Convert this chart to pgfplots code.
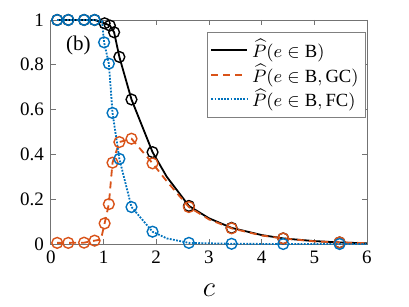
\documentclass[border=0pt]{standalone}
\usepackage{fontspec}
\setmainfont{Liberation Serif}
\usepackage{pgfplots}
\pgfplotsset{compat=1.18}
\definecolor{mblue}{rgb}{0,0.447,0.741}
\definecolor{mred}{rgb}{0.850,0.325,0.098}
\begin{document}
\begin{tikzpicture}
\begin{axis}[
  scale only axis, width=158pt, height=112pt,
  xmin=0, xmax=6, ymin=0, ymax=1,
  xtick={0,1,2,3,4,5,6}, ytick={0,0.2,0.4,0.6,0.8,1},
  yticklabels={0,0.2,0.4,0.6,0.8,1},
  tick align=inside, tick pos=both,
  major tick length=2.5pt,
  axis line style={color=black!55, line width=0.4pt},
  every tick/.style={color=black!55, line width=0.4pt},
  tick label style={font=\fontsize{9.5}{11}\selectfont},
  /pgf/number format/assume math mode=true,
  xlabel={$c$}, xlabel style={font=\fontsize{15}{16}\selectfont, yshift=-3pt},
  clip=false,
  legend style={at={(1,1)}, anchor=north east, xshift=-0.5pt, yshift=-6pt,
     draw=black!50, line width=0.4pt, font=\fontsize{9.3}{10.5}\selectfont,
     row sep=-2.2pt, inner sep=1.5pt, cells={anchor=west}},
  legend image code/.code={\draw[#1] (0cm,0cm) -- (0.63cm,0cm);},
]
% lines
\addplot[black, line width=0.9pt] coordinates {
 (0.12,1) (0.33,1) (0.63,1) (0.83,1) (1.02,0.985) (1.12,0.975) (1.2,0.945)
 (1.3,0.835) (1.53,0.645) (1.93,0.41) (2.2,0.3) (2.62,0.17) (3.0,0.115)
 (3.43,0.072) (4.0,0.04) (4.41,0.025) (5.0,0.013) (5.48,0.007) (6.0,0.003)};
\addlegendentry{$\widehat{P}(e\in\mathrm{B})$}
\addplot[mred, line width=0.9pt, dash pattern=on 3.5pt off 2.5pt] coordinates {
 (0.12,0.005) (0.33,0.005) (0.63,0.006) (0.83,0.015) (0.95,0.02) (1.02,0.092)
 (1.1,0.178) (1.17,0.363) (1.3,0.455) (1.53,0.47) (1.93,0.36) (2.2,0.28)
 (2.62,0.165) (3.0,0.11) (3.43,0.07) (4.0,0.038) (4.41,0.025) (5.0,0.012)
 (5.48,0.007) (6.0,0.004)};
\addlegendentry{$\widehat{P}(e\in\mathrm{B},\mathrm{GC})$}
\addplot[mblue, line width=0.9pt, dash pattern=on 0.9pt off 0.7pt] coordinates {
 (0.12,1) (0.33,1) (0.63,1) (0.83,1) (0.97,0.995) (1.01,0.9) (1.1,0.805)
 (1.17,0.585) (1.3,0.38) (1.53,0.165) (1.93,0.055) (2.2,0.025) (2.62,0.005)
 (3.43,0.001) (4.41,0) (5.48,0) (6.0,0)};
\addlegendentry{$\widehat{P}(e\in\mathrm{B},\mathrm{FC})$}
% markers
\addplot[forget plot, only marks, mark=o, mark size=2.7pt, black, line width=0.7pt] coordinates {
 (0.12,1) (0.33,1) (0.63,1) (0.83,1) (1.02,0.985) (1.12,0.975) (1.2,0.945)
 (1.3,0.835) (1.53,0.645) (1.93,0.41) (2.62,0.17) (3.43,0.072) (4.41,0.025) (5.48,0.007)};
\addplot[forget plot, only marks, mark=o, mark size=2.7pt, mred, line width=0.7pt] coordinates {
 (0.12,0.005) (0.33,0.005) (0.63,0.006) (0.83,0.015) (1.02,0.092) (1.1,0.178)
 (1.17,0.363) (1.3,0.455) (1.53,0.47) (1.93,0.36) (2.62,0.165) (3.43,0.07)
 (4.41,0.025) (5.48,0.007)};
\addplot[forget plot, only marks, mark=o, mark size=2.7pt, mblue, line width=0.7pt] coordinates {
 (0.12,1) (0.33,1) (0.63,1) (0.83,1) (1.01,0.9) (1.1,0.805) (1.17,0.585)
 (1.3,0.38) (1.53,0.165) (1.93,0.055) (2.62,0.005) (3.43,0.001) (4.41,0) (5.48,0)};
\node[font=\fontsize{10.5}{12}\selectfont] at (axis cs:0.52,0.885) {(b)};
\path (rel axis cs:-0.161,-0.277) rectangle (rel axis cs:1.133,1.089);
\end{axis}
\end{tikzpicture}
\end{document}
